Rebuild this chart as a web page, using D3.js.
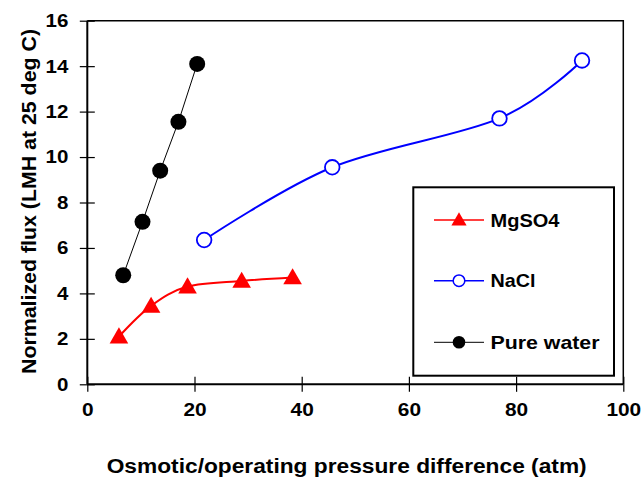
<!DOCTYPE html>
<html>
<head>
<meta charset="utf-8">
<script src="https://cdn.jsdelivr.net/npm/d3@7"></script>
<style>
  body { margin: 0; background: #fff; }
  text { font-family: "Liberation Sans", Arial, sans-serif; font-weight: bold; fill: #000; }
</style>
</head>
<body>
<svg id="chart" width="643" height="481"></svg>
<script>
// Data
const waterX = [6.7, 10.3, 13.6, 17.0, 20.5];
const waterY = [4.8, 7.15, 9.4, 11.55, 14.1];
const mgso4X = [5.9, 11.9, 18.7, 28.8, 38.3];
const mgso4Y = [2.1, 3.45, 4.3, 4.55, 4.7];
const naclX = [21.8, 45.7, 76.9, 92.3];
const naclY = [6.35, 9.55, 11.7, 14.25];

const xTicks = [0, 20, 40, 60, 80, 100];
const yTicks = [0, 2, 4, 6, 8, 10, 12, 14, 16];
const legendNames = ["MgSO4", "NaCl", "Pure water"];

const width = 643, height = 481;
const margin = { top: 20.7, right: 19.7, bottom: 96.7, left: 87.3 };

const svg = d3.select("#chart");

const x = d3.scaleLinear().domain([0, 100]).range([margin.left, width - margin.right]);
const y = d3.scaleLinear().domain([0, 16]).range([height - margin.bottom, margin.top]);

// frame (top and right)
svg.append("path")
    .attr("d", `M${x(0)},${y(16)}H${x(100)}V${y(0)}`)
    .attr("fill", "none").attr("stroke", "#000").attr("stroke-width", 1.5);

// axes, ticks cross the axis line
const xAxis = svg.append("g")
    .attr("transform", `translate(0,${y(0)})`)
    .call(d3.axisBottom(x).tickValues(xTicks).tickSize(7.5).tickPadding(11));
xAxis.selectAll(".tick line").attr("y1", -7.5).attr("stroke-width", 1.2);
xAxis.select(".domain").attr("stroke-width", 2);
xAxis.selectAll(".tick text")
    .attr("font-size", 18.5)
    .attr("textLength", d => String(d).length * 11.6)
    .attr("lengthAdjust", "spacingAndGlyphs");

const yAxis = svg.append("g")
    .attr("transform", `translate(${x(0)},0)`)
    .call(d3.axisLeft(y).tickValues(yTicks).tickSize(7.5).tickPadding(11.5));
yAxis.selectAll(".tick line").attr("x1", 7.5).attr("stroke-width", 1.2);
yAxis.select(".domain").attr("stroke-width", 2);
yAxis.selectAll(".tick text")
    .attr("font-size", 18.5)
    .attr("textLength", d => String(d).length * 11.4)
    .attr("lengthAdjust", "spacingAndGlyphs");

svg.selectAll(".domain").attr("d", function () {
    return d3.select(this).attr("d").replace(/M[^VH]*V[^H]*H/, m => m); // keep
});
// remove outer tick stubs of the domain paths
xAxis.select(".domain").attr("d", `M${x(0)},0H${x(100)}`);
yAxis.select(".domain").attr("d", `M0,${y(0)}V${y(16)}`);

// axis titles
svg.append("text")
    .attr("x", 346.7).attr("y", 473)
    .attr("text-anchor", "middle")
    .attr("font-size", 19.5)
    .attr("textLength", 480).attr("lengthAdjust", "spacingAndGlyphs")
    .text("Osmotic/operating pressure difference (atm)");

svg.append("text")
    .attr("transform", "translate(36,201.5) rotate(-90)")
    .attr("text-anchor", "middle")
    .attr("font-size", 19.5)
    .attr("textLength", 345).attr("lengthAdjust", "spacingAndGlyphs")
    .text("Normalized flux (LMH at 25 deg C)");

// series
const smooth = d3.line().x(d => x(d[0])).y(d => y(d[1])).curve(d3.curveCatmullRom.alpha(0));
const straight = d3.line().x(d => x(d[0])).y(d => y(d[1]));

const water = waterX.map((v, i) => [v, waterY[i]]);
const mgso4 = mgso4X.map((v, i) => [v, mgso4Y[i]]);
const nacl = naclX.map((v, i) => [v, naclY[i]]);

const tri = d3.symbol().type(d3.symbolTriangle);

svg.append("path").datum(mgso4).attr("d", smooth)
    .attr("fill", "none").attr("stroke", "#ff0000").attr("stroke-width", 2);
svg.append("path").datum(nacl).attr("d", smooth)
    .attr("fill", "none").attr("stroke", "#0000ff").attr("stroke-width", 2);
svg.append("path").datum(water).attr("d", straight)
    .attr("fill", "none").attr("stroke", "#000").attr("stroke-width", 1);

svg.selectAll(".mg").data(mgso4).enter().append("path")
    .attr("transform", d => `translate(${x(d[0])},${y(d[1]) + 1.5})`)
    .attr("d", tri.size(150)).attr("fill", "#ff0000");

svg.selectAll(".na").data(nacl).enter().append("circle")
    .attr("cx", d => x(d[0])).attr("cy", d => y(d[1])).attr("r", 7.3)
    .attr("fill", "#fff").attr("stroke", "#0000ff").attr("stroke-width", 1.8);

svg.selectAll(".pw").data(water).enter().append("circle")
    .attr("cx", d => x(d[0])).attr("cy", d => y(d[1])).attr("r", 8)
    .attr("fill", "#000");

// legend
const lg = svg.append("g");
lg.append("rect")
    .attr("x", 413.3).attr("y", 187.3).attr("width", 200.7).attr("height", 188.4)
    .attr("fill", "#fff").attr("stroke", "#000").attr("stroke-width", 2);

const legendY = [220, 280.7, 342.3];
const legendColors = ["#ff0000", "#0000ff", "#000"];
const legendWidths = [69, 45, 109];

legendNames.forEach((name, i) => {
    const ly = legendY[i];
    lg.append("line").attr("x1", 434).attr("x2", 484).attr("y1", ly).attr("y2", ly)
        .attr("stroke", legendColors[i]).attr("stroke-width", i === 2 ? 1 : 1.5);
    if (i === 0) {
        lg.append("path").attr("transform", `translate(459,${ly + 1})`)
            .attr("d", d3.symbol().type(d3.symbolTriangle).size(100)()).attr("fill", "#ff0000");
    } else if (i === 1) {
        lg.append("circle").attr("cx", 459).attr("cy", ly).attr("r", 5.8)
            .attr("fill", "#fff").attr("stroke", "#0000ff").attr("stroke-width", 1.5);
    } else {
        lg.append("circle").attr("cx", 459).attr("cy", ly).attr("r", 6.3).attr("fill", "#000");
    }
    lg.append("text").attr("x", 490.5).attr("y", ly + 6.5)
        .attr("font-size", 19)
        .attr("textLength", legendWidths[i]).attr("lengthAdjust", "spacingAndGlyphs")
        .text(name);
});
</script>
</body>
</html>
